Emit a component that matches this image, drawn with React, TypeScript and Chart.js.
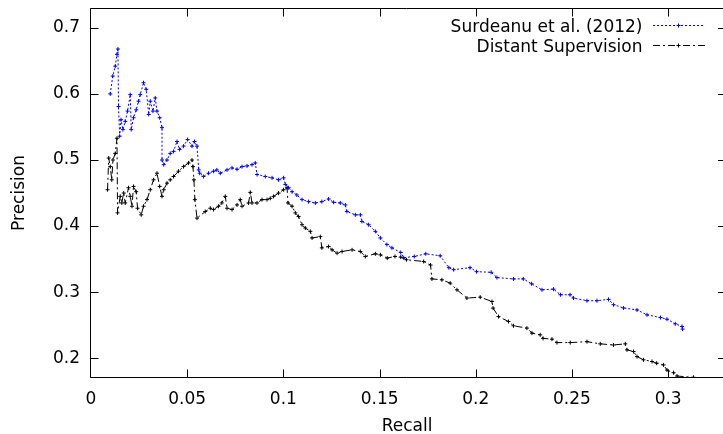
import React, { useEffect, useRef } from "react";
import { Chart, registerables } from "chart.js";

Chart.register(...registerables);

// ---- data ----
const seriesNames = ["Surdeanu et al. (2012)", "Distant Supervision"];

const recallSurdeanu = [
  0.0100, 0.0113, 0.0126, 0.0135, 0.0140, 0.0143, 0.0149, 0.0156, 0.0166, 0.0178,
  0.0190, 0.0204, 0.0209, 0.0221, 0.0235, 0.0247, 0.0256, 0.0273, 0.0287, 0.0300,
  0.0308, 0.0322, 0.0334, 0.0343, 0.0357, 0.0369, 0.0369, 0.0378, 0.0395, 0.0412,
  0.0429, 0.0447, 0.0460, 0.0481, 0.0502, 0.0525, 0.0538, 0.0551, 0.0560, 0.0565,
  0.0585, 0.0611, 0.0637, 0.0654, 0.0672, 0.0707, 0.0733, 0.0759, 0.0785, 0.0811,
  0.0837, 0.0854, 0.0863, 0.0906, 0.0941, 0.0975, 0.1001, 0.1010, 0.1027, 0.1045,
  0.1070, 0.1097, 0.1131, 0.1166, 0.1200, 0.1235, 0.1261, 0.1296, 0.1322, 0.1330,
  0.1374, 0.1400, 0.1408, 0.1443, 0.1478, 0.1504, 0.1538, 0.1564, 0.1610, 0.1625,
  0.1680, 0.1740, 0.1815, 0.1860, 0.1885, 0.1970, 0.2004, 0.2080, 0.2110, 0.2196,
  0.2247, 0.2290, 0.2344, 0.2404, 0.2440, 0.2490, 0.2508, 0.2578, 0.2630, 0.2690,
  0.2716, 0.2768, 0.2838, 0.2890, 0.2960, 0.2994, 0.3037, 0.3072, 0.3075,
];
const precisionSurdeanu = [
  0.600, 0.627, 0.642, 0.660, 0.668, 0.581, 0.536, 0.561, 0.546, 0.5585,
  0.574, 0.599, 0.546, 0.564, 0.576, 0.589, 0.599, 0.617, 0.607, 0.569,
  0.589, 0.574, 0.594, 0.574, 0.564, 0.549, 0.500, 0.493, 0.500, 0.510,
  0.513, 0.528, 0.516, 0.521, 0.531, 0.521, 0.528, 0.521, 0.485, 0.480,
  0.475, 0.480, 0.483, 0.485, 0.480, 0.485, 0.488, 0.486, 0.490, 0.491,
  0.493, 0.4955, 0.478, 0.475, 0.473, 0.470, 0.473, 0.463, 0.458, 0.452,
  0.447, 0.440, 0.437, 0.435, 0.437, 0.441, 0.436, 0.435, 0.432, 0.422,
  0.417, 0.417, 0.407, 0.402, 0.392, 0.382, 0.372, 0.367, 0.360, 0.352,
  0.354, 0.358, 0.355, 0.337, 0.334, 0.337, 0.331, 0.330, 0.322, 0.320,
  0.320, 0.3126, 0.3035, 0.3045, 0.296, 0.296, 0.291, 0.287, 0.287, 0.289,
  0.281, 0.276, 0.273, 0.2656, 0.2615, 0.259, 0.252, 0.248, 0.244,
];

const recallDistant = [
  0.0086, 0.0092, 0.0100, 0.0108, 0.0114, 0.0126, 0.0135, 0.0138, 0.0152, 0.0160,
  0.0170, 0.0178, 0.0195, 0.0204, 0.0213, 0.0221, 0.0235, 0.0242, 0.0261, 0.0273,
  0.0291, 0.0308, 0.0325, 0.0343, 0.0357, 0.0369, 0.0378, 0.0395, 0.0412, 0.0429,
  0.0455, 0.0481, 0.0507, 0.0525, 0.0530, 0.0535, 0.0540, 0.0551, 0.0594, 0.0620,
  0.0637, 0.0663, 0.0680, 0.0698, 0.0707, 0.0733, 0.0759, 0.0776, 0.0785, 0.0819,
  0.0828, 0.0837, 0.0863, 0.0889, 0.0915, 0.0932, 0.0949, 0.0975, 0.1001, 0.1019,
  0.1024, 0.1045, 0.1062, 0.1079, 0.1097, 0.1114, 0.1140, 0.1149, 0.1192, 0.1200,
  0.1235, 0.1253, 0.1279, 0.1305, 0.1357, 0.1400, 0.1426, 0.1478, 0.1504, 0.1540,
  0.1580, 0.1610, 0.1640, 0.1729, 0.1765, 0.1772, 0.1824, 0.1867, 0.1902, 0.1954,
  0.2023, 0.2084, 0.2090, 0.2118, 0.2170, 0.2196, 0.2266, 0.2292, 0.2335, 0.2350,
  0.2396, 0.2422, 0.2491, 0.2578, 0.2647, 0.2716, 0.2777, 0.2786, 0.2820, 0.2838,
  0.2872, 0.2916, 0.2940, 0.2976, 0.2994, 0.3028, 0.3046, 0.3132,
];
const precisionDistant = [
  0.455, 0.503, 0.490, 0.470, 0.500, 0.510, 0.533, 0.420, 0.445, 0.435,
  0.450, 0.435, 0.458, 0.445, 0.430, 0.460, 0.452, 0.427, 0.417, 0.430,
  0.440, 0.455, 0.470, 0.480, 0.460, 0.445, 0.455, 0.465, 0.470, 0.475,
  0.483, 0.490, 0.4955, 0.500, 0.490, 0.470, 0.440, 0.412, 0.422, 0.427,
  0.425, 0.430, 0.435, 0.445, 0.427, 0.425, 0.432, 0.440, 0.430, 0.435,
  0.451, 0.435, 0.435, 0.440, 0.440, 0.442, 0.445, 0.450, 0.455, 0.458,
  0.435, 0.430, 0.420, 0.4145, 0.402, 0.397, 0.392, 0.382, 0.384, 0.367,
  0.369, 0.364, 0.359, 0.3615, 0.364, 0.3615, 0.354, 0.358, 0.3565, 0.3515,
  0.354, 0.353, 0.349, 0.3464, 0.341, 0.320, 0.3186, 0.3136, 0.3035, 0.291,
  0.2924, 0.2858, 0.2758, 0.263, 0.2555, 0.249, 0.2455, 0.238, 0.2353, 0.230,
  0.2288, 0.2236, 0.2236, 0.225, 0.2217, 0.220, 0.2217, 0.2126, 0.210, 0.2024,
  0.1975, 0.195, 0.1924, 0.1898, 0.182, 0.178, 0.173, 0.171,
];

const xTickValues = [0, 0.05, 0.1, 0.15, 0.2, 0.25, 0.3];
const xTickLabels = ["0", "0.05", "0.1", "0.15", "0.2", "0.25", "0.3"];
const yTickValues = [0.2, 0.3, 0.4, 0.5, 0.6, 0.7];
const yTickLabels = ["0.2", "0.3", "0.4", "0.5", "0.6", "0.7"];

const xMin = 0;
const xMax = 0.3285;
const yMin = 0.17;
const yMax = 0.7301;

const FONT = "'DejaVu Sans', 'Liberation Sans', sans-serif";
const BLUE = "#0000ff";
const BLACK = "#000000";
const BLUE_DASH = [2, 2];
const BLACK_DASH = [7, 3, 2, 3];

function drawPlus(ctx: CanvasRenderingContext2D, x: number, y: number, r: number) {
  ctx.beginPath();
  ctx.moveTo(x - r, y);
  ctx.lineTo(x + r, y);
  ctx.moveTo(x, y - r);
  ctx.lineTo(x, y + r);
  ctx.stroke();
}

const frameAndLegend = {
  id: "frameAndLegend",
  afterDraw(chart: any) {
    const ctx: CanvasRenderingContext2D = chart.ctx;
    const { left, right, top, bottom } = chart.chartArea;
    const xs = chart.scales.x;
    const ys = chart.scales.y;
    const L = Math.round(left) - 0.5;
    const T = Math.round(top) + 0.5;
    const B = Math.round(bottom) - 0.5;
    const R = right;
    ctx.save();
    ctx.strokeStyle = "#000";
    ctx.lineWidth = 1;
    ctx.setLineDash([]);
    ctx.beginPath();
    ctx.moveTo(R, T);
    ctx.lineTo(L, T);
    ctx.lineTo(L, B);
    ctx.lineTo(R, B);
    // ticks (mirrored, pointing inwards)
    const tl = 8;
    xTickValues.forEach((v) => {
      let px = Math.round(xs.getPixelForValue(v)) + 0.5;
      if (Math.abs(px - L) < 2) px = L;
      ctx.moveTo(px, B);
      ctx.lineTo(px, B - tl);
      ctx.moveTo(px, T);
      ctx.lineTo(px, T + tl);
    });
    yTickValues.forEach((v) => {
      const py = Math.round(ys.getPixelForValue(v)) + 0.5;
      ctx.moveTo(L, py);
      ctx.lineTo(L + tl, py);
      ctx.moveTo(R, py);
      ctx.lineTo(R - 5, py);
    });
    ctx.stroke();

    // legend (gnuplot style: text, then sample)
    const rows = [
      { name: seriesNames[0], color: BLUE, dash: BLUE_DASH, textY: 32, lineY: 25.5, x0: 653, x1: 703 },
      { name: seriesNames[1], color: BLACK, dash: BLACK_DASH, textY: 51.5, lineY: 45.5, x0: 653, x1: 705 },
    ];
    ctx.font = `17px ${FONT}`;
    ctx.textAlign = "right";
    ctx.textBaseline = "alphabetic";
    rows.forEach((r) => {
      ctx.fillStyle = "#000";
      ctx.fillText(r.name, 642.5, r.textY);
      ctx.strokeStyle = r.color;
      ctx.setLineDash(r.dash);
      ctx.beginPath();
      ctx.moveTo(r.x0, r.lineY);
      ctx.lineTo(r.x1, r.lineY);
      ctx.stroke();
      ctx.setLineDash([]);
      drawPlus(ctx, 678.5, r.lineY, 2);
    });
    ctx.restore();
  },
};

export default function App() {
  const ref = useRef<HTMLCanvasElement | null>(null);

  useEffect(() => {
    document.body.style.margin = "0";
    const canvas = ref.current;
    if (!canvas) return;
    const tickFont = { family: FONT, size: 17 };
    const chart = new Chart(canvas, {
      type: "line",
      data: {
        datasets: [
          {
            label: seriesNames[0],
            data: recallSurdeanu.map((r, i) => ({ x: r, y: precisionSurdeanu[i] })),
            borderColor: BLUE,
            backgroundColor: BLUE,
            borderWidth: 1,
            borderDash: BLUE_DASH,
            pointStyle: "cross",
            pointRadius: 2,
            pointBorderWidth: 1,
            pointBorderColor: BLUE,
            tension: 0,
            fill: false,
          },
          {
            label: seriesNames[1],
            data: recallDistant.map((r, i) => ({ x: r, y: precisionDistant[i] })),
            borderColor: BLACK,
            backgroundColor: BLACK,
            borderWidth: 1,
            borderDash: BLACK_DASH,
            pointStyle: "cross",
            pointRadius: 2,
            pointBorderWidth: 1,
            pointBorderColor: BLACK,
            tension: 0,
            fill: false,
          },
        ],
      },
      options: {
        animation: false,
        responsive: false,
        devicePixelRatio: 1,
        layout: { autoPadding: false, padding: { top: 8, right: 0, bottom: 0, left: 0 } },
        plugins: { legend: { display: false }, tooltip: { enabled: false } },
        scales: {
          x: {
            type: "linear",
            position: "bottom",
            min: xMin,
            max: xMax,
            grid: { display: false, drawTicks: false, tickLength: 0 },
            border: { display: false },
            afterBuildTicks: (s: any) => {
              s.ticks = xTickValues.map((v) => ({ value: v }));
            },
            afterFit: (s: any) => {
              s.height = 56;
              s.paddingLeft = 0;
              s.paddingRight = 0;
            },
            ticks: {
              font: tickFont,
              color: "#000",
              padding: 11,
              maxRotation: 0,
              autoSkip: false,
              callback: (v: any) => {
                const i = xTickValues.findIndex((t) => Math.abs(t - Number(v)) < 1e-9);
                return i >= 0 ? xTickLabels[i] : "";
              },
            },
            title: {
              display: true,
              text: "Recall",
              color: "#000",
              font: { family: FONT, size: 17, lineHeight: 0.8 },
              padding: { top: 0, bottom: 1 },
            },
          },
          y: {
            type: "linear",
            position: "left",
            min: yMin,
            max: yMax,
            grid: { display: false, drawTicks: false, tickLength: 0 },
            border: { display: false },
            afterBuildTicks: (s: any) => {
              s.ticks = yTickValues.map((v) => ({ value: v }));
            },
            afterFit: (s: any) => {
              s.width = 91;
              s.paddingTop = 0;
              s.paddingBottom = 0;
            },
            ticks: {
              font: tickFont,
              color: "#000",
              padding: 11,
              autoSkip: false,
              callback: (v: any) => {
                const i = yTickValues.findIndex((t) => Math.abs(t - Number(v)) < 1e-9);
                return i >= 0 ? yTickLabels[i] : "";
              },
            },
            title: {
              display: true,
              text: "Precision",
              color: "#000",
              font: { family: FONT, size: 17, lineHeight: 1 },
              padding: { top: 11.5, bottom: 0 },
            },
          },
        },
      },
      plugins: [frameAndLegend],
    } as any);
    return () => chart.destroy();
  }, []);

  return (
    <div style={{ width: 723, height: 434, background: "#fff" }}>
      <canvas ref={ref} width={723} height={434} style={{ display: "block", width: 723, height: 434 }} />
    </div>
  );
}
